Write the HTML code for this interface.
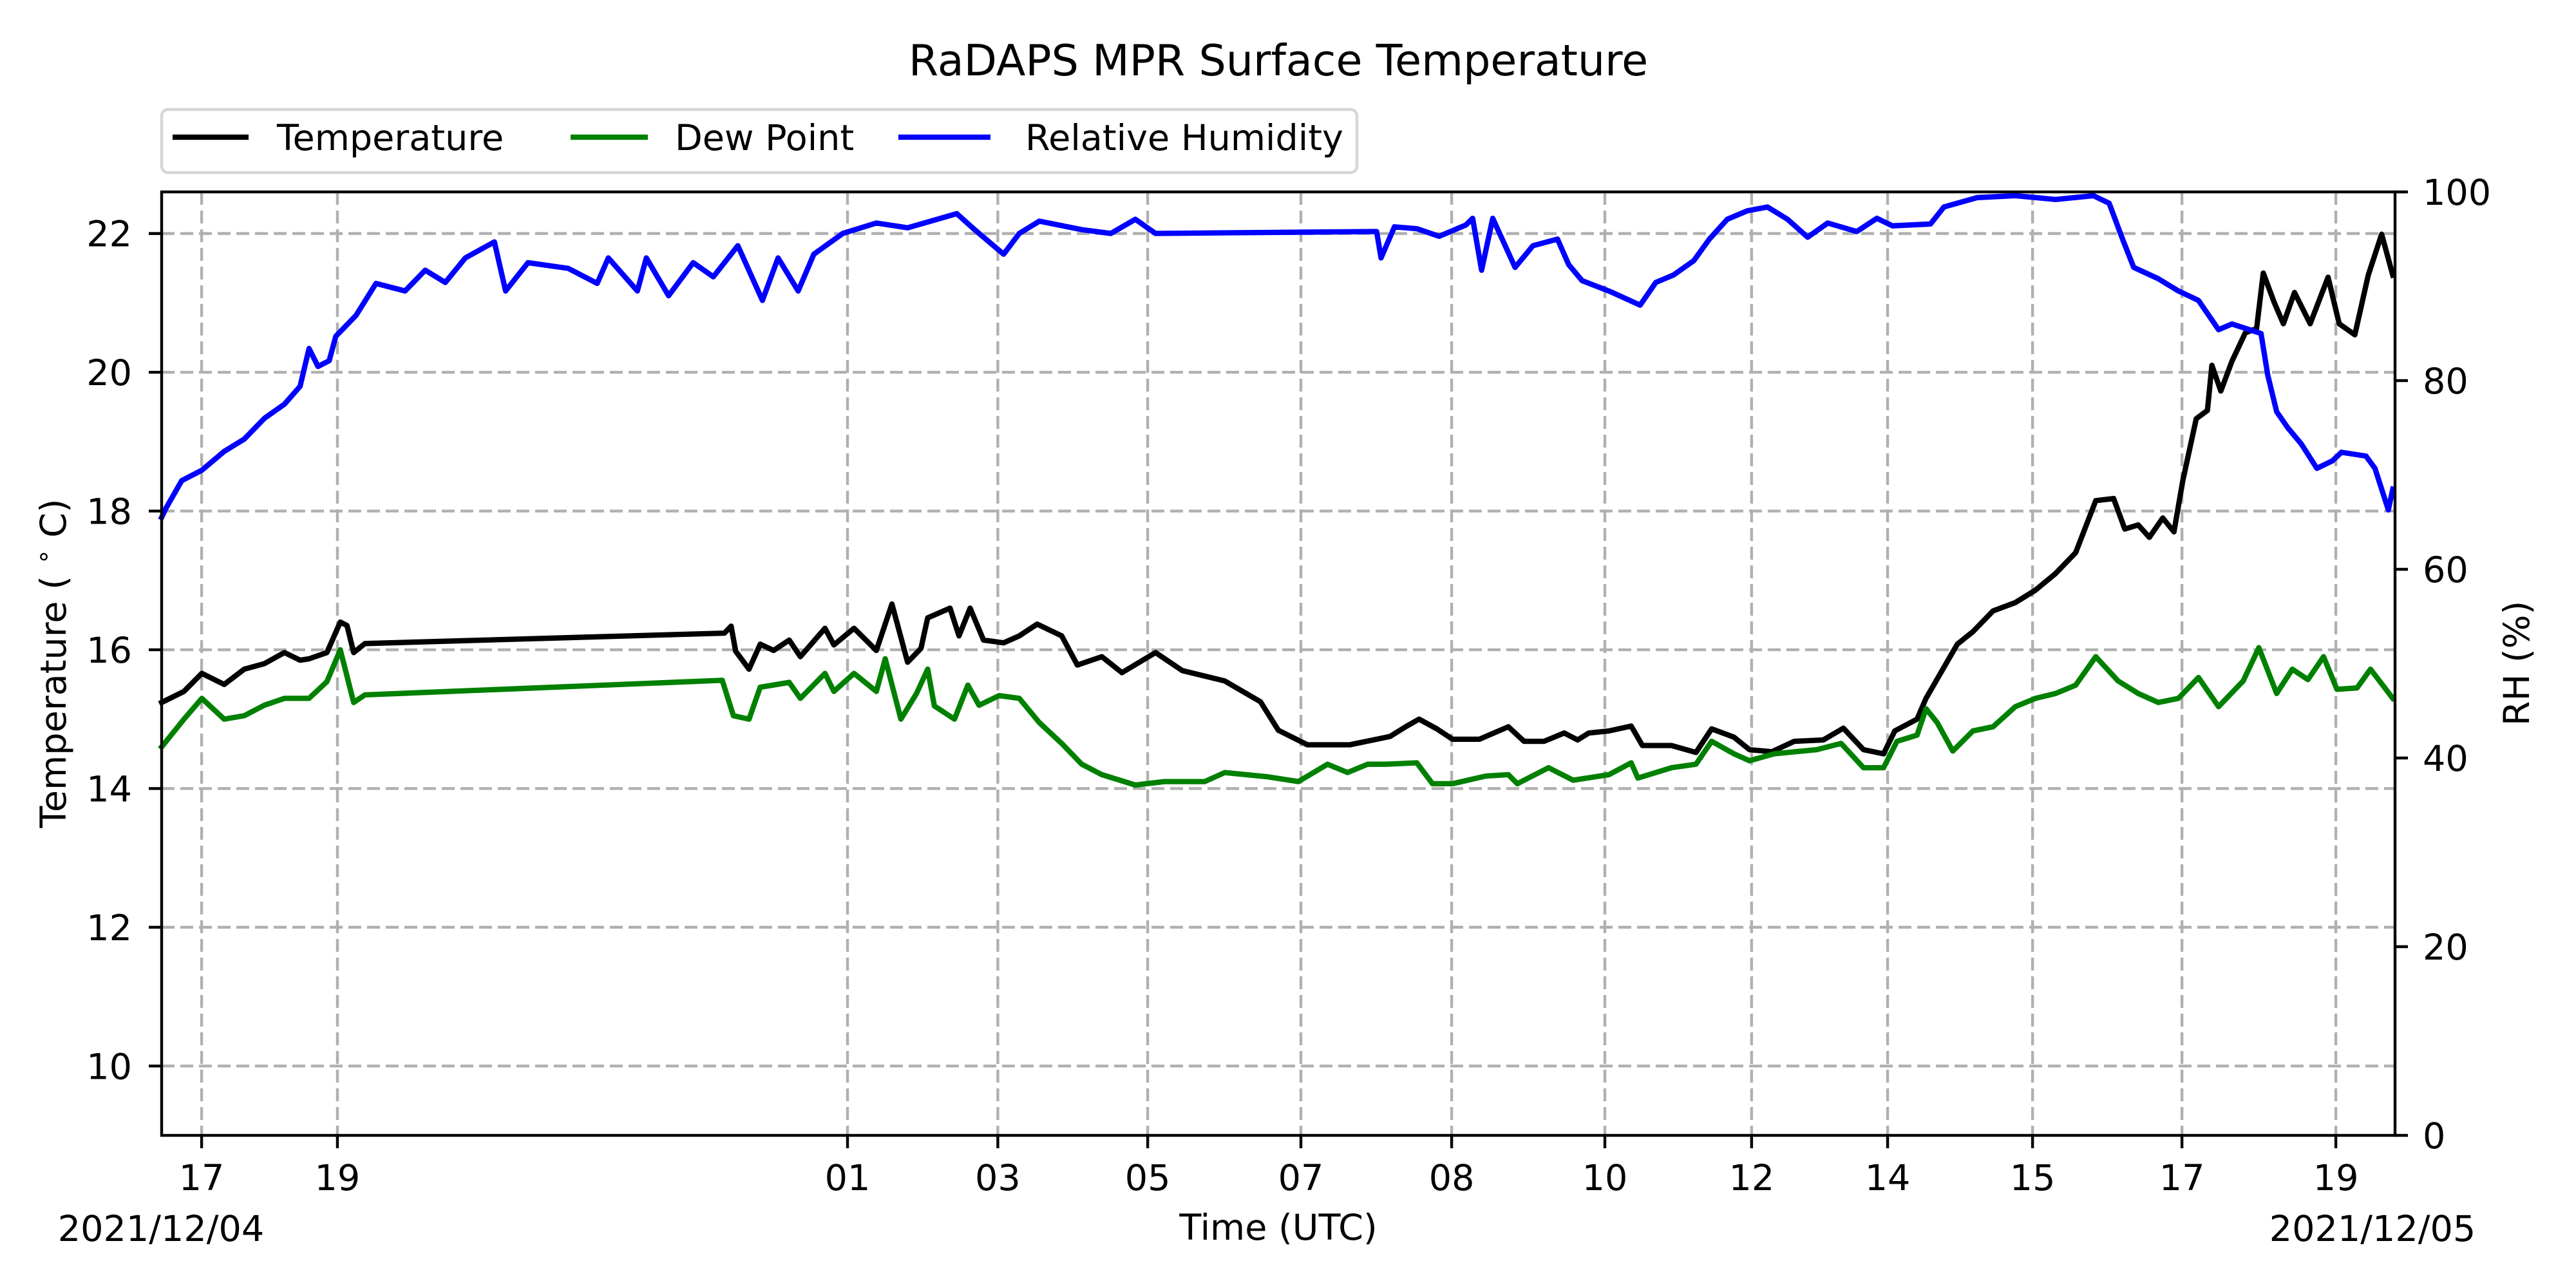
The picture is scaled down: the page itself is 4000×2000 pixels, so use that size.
<!DOCTYPE html>
<html><head><meta charset="utf-8"><style>
html,body{margin:0;padding:0;background:#fff}
svg{display:block;font-family:"DejaVu Sans","Liberation Sans",sans-serif}
</style></head><body>
<svg id="chart" width="4000" height="2000" viewBox="0 0 4000 2000" xmlns="http://www.w3.org/2000/svg">
<rect width="4000" height="2000" fill="#fff"/>
<text x="1985" y="117" font-size="66.7" text-anchor="middle">RaDAPS MPR Surface Temperature</text>
<g id="grid"></g>
<g id="series"></g>
<rect x="251" y="298" width="3468" height="1465" fill="none" stroke="#000" stroke-width="4.4"/>
<g id="axes"></g>
<text x="1985" y="1925" font-size="55.6" text-anchor="middle">Time (UTC)</text>
<text x="250" y="1927" font-size="55.6" text-anchor="middle">2021/12/04</text>
<text x="3684" y="1927" font-size="55.6" text-anchor="middle">2021/12/05</text>
<text transform="translate(102,1030) rotate(-90)" font-size="55.6" text-anchor="middle">Temperature ( <tspan font-size="38" dy="-22">∘</tspan><tspan dy="22"> C)</tspan></text>
<text transform="translate(3927,1030) rotate(-90)" font-size="55.6" text-anchor="middle">RH (%)</text>
<g>
<rect x="251" y="170" width="1856" height="98" rx="10" fill="#fff" stroke="#d6d6d6" stroke-width="4.5"/>
<line x1="268" y1="213" x2="386" y2="213" stroke="#000" stroke-width="8.3"/>
<text x="430" y="233" font-size="55.6">Temperature</text>
<line x1="886" y1="213" x2="1006" y2="213" stroke="#008000" stroke-width="8.3"/>
<text x="1048" y="233" font-size="55.6">Dew Point</text>
<line x1="1395" y1="213" x2="1538" y2="213" stroke="#0000ff" stroke-width="8.3"/>
<text x="1592" y="233" font-size="55.6">Relative Humidity</text>
</g>
</svg>
<script>
const xTickPos = [17.9,78.7,307.1,374.4,441.5,510.1,577.6,646.2,711.9,772.8,837.7,904.6,973.5];
const xTickLabels = ["17","19","01","03","05","07","08","10","12","14","15","17","19"];
const yTicks = [10,12,14,16,18,20,22];
const y2Ticks = [0,20,40,60,80,100];
const tempX = [0,10,18,28,37,46,55,62,66,74,80,83,86,91,252,255,257,263,268,274,281,286,297,301,310,320,327,334,340,343,353,357,362,368,377,384,392,403,410,421,430,445,457,476,492,500,513,532,550,557,563,571,578,590,603,610,619,628,634,639,648,658,663,676,687,694,704,711,721,731,744,753,762,771,776,786,790,804,811,820,830,839,848,857,866,874,879,885,890,896,901,905,911,916,918,922,927,933,938,941,946,950,955,962,970,975,982,988,994,999];
const tempY = [15.24,15.4,15.66,15.5,15.72,15.8,15.96,15.85,15.87,15.96,16.4,16.35,15.96,16.09,16.24,16.34,15.98,15.72,16.08,15.99,16.14,15.9,16.31,16.07,16.31,15.99,16.66,15.82,16.02,16.46,16.6,16.2,16.6,16.14,16.1,16.2,16.37,16.2,15.78,15.9,15.67,15.96,15.7,15.55,15.25,14.84,14.63,14.63,14.75,14.89,15.0,14.86,14.71,14.71,14.89,14.68,14.68,14.8,14.7,14.8,14.83,14.9,14.62,14.62,14.52,14.86,14.74,14.56,14.53,14.68,14.7,14.87,14.56,14.5,14.83,15.0,15.3,16.08,16.26,16.56,16.68,16.86,17.1,17.4,18.15,18.18,17.74,17.8,17.62,17.9,17.7,18.44,19.33,19.45,20.1,19.73,20.16,20.57,20.63,21.43,21.0,20.7,21.15,20.7,21.37,20.7,20.54,21.4,21.99,21.4];
const dewX = [0,10,18,28,37,46,55,66,74,80,86,91,251,256,263,268,281,286,297,301,310,320,324,331,338,343,346,355,361,366,375,384,393,403,412,421,436,449,467,476,495,509,522,531,540,548,562,569,578,593,603,607,621,632,648,658,661,676,687,694,704,711,722,741,752,762,771,777,786,790,795,802,811,820,830,839,848,857,866,876,885,894,903,912,921,932,939,947,954,961,968,974,983,989,999];
const dewY = [14.6,15.0,15.3,15.0,15.05,15.2,15.3,15.3,15.54,16.0,15.24,15.35,15.56,15.05,15.0,15.46,15.53,15.3,15.66,15.4,15.66,15.4,15.87,15.0,15.37,15.72,15.19,15.0,15.49,15.2,15.34,15.3,14.95,14.65,14.35,14.2,14.05,14.1,14.1,14.23,14.17,14.1,14.35,14.23,14.35,14.35,14.37,14.07,14.07,14.18,14.2,14.07,14.3,14.12,14.2,14.37,14.15,14.3,14.35,14.68,14.5,14.4,14.5,14.56,14.65,14.3,14.3,14.68,14.77,15.15,14.95,14.54,14.83,14.89,15.18,15.3,15.37,15.49,15.9,15.55,15.37,15.24,15.3,15.6,15.18,15.55,16.03,15.37,15.72,15.57,15.9,15.43,15.45,15.72,15.3];
const rhX = [0,2,9,18,28,37,46,55,62,66,70,75,78,87,96,109,118,127,136,149,154,164,182,195,200,213,217,227,238,247,258,269,276,285,292,305,320,334,356,364,377,384,393,412,425,436,445,544,546,552,562,572,584,587,591,596,606,614,625,630,636,649,662,669,677,686,693,701,710,719,728,737,746,759,768,775,792,798,813,830,848,865,872,878,883,894,903,912,921,927,940,943,947,952,958,965,972,976,987,991,997,999];
const rhY = [65.5,66.5,69.4,70.5,72.5,73.8,76.0,77.5,79.4,83.4,81.5,82.1,84.7,86.9,90.3,89.5,91.7,90.4,93,94.7,89.5,92.5,91.9,90.3,93.0,89.5,93,89,92.5,91,94.3,88.5,93,89.5,93.4,95.6,96.7,96.2,97.7,96.0,93.4,95.6,96.9,96,95.6,97.1,95.6,95.8,93.0,96.3,96.1,95.3,96.5,97.2,91.7,97.2,92,94.3,95,92.3,90.6,89.4,88.0,90.4,91.2,92.7,95,97.1,98.0,98.4,97.1,95.2,96.7,95.8,97.2,96.4,96.6,98.4,99.4,99.6,99.2,99.6,98.8,95,92,90.8,89.5,88.5,85.4,86.0,85,80.6,76.7,75,73.3,70.7,71.5,72.4,72,70.7,66.3,68.5];

const L=251,R=3719,T=298,B=1763;
const xS = i => L + i*(R-L)/1000;
const yT = v => B - (v-9.0)*(B-T)/(22.6-9.0);
const yR = v => B - v*(B-T)/100;
const NS="http://www.w3.org/2000/svg";
function mk(tag,attrs,parent){const e=document.createElementNS(NS,tag);for(const k in attrs)e.setAttribute(k,attrs[k]);parent.appendChild(e);return e;}
const grid=document.getElementById('grid'), axes=document.getElementById('axes'), series=document.getElementById('series');
xTickPos.forEach((p,k)=>{
  const x=xS(p);
  const g=mk('line',{x1:x,y1:T,x2:x,y2:B,stroke:'#b0b0b0','stroke-width':4.4,'stroke-dasharray':'20 9'},grid);
  
  
  const t=mk('line',{x1:x,y1:B,x2:x,y2:B+20,stroke:'#000','stroke-width':4.4},axes);
  
  
  const lb=mk('text',{x:x,y:1848,'font-size':55.6,'text-anchor':'middle'},axes);
  lb.textContent=xTickLabels[k];
  
  
});
yTicks.forEach(v=>{
  const y=yT(v);
  const g=mk('line',{x1:L,y1:y,x2:R,y2:y,stroke:'#b0b0b0','stroke-width':4.4,'stroke-dasharray':'20 9'},grid);
  
  
  const t=mk('line',{x1:L-20,y1:y,x2:L,y2:y,stroke:'#000','stroke-width':4.4},axes);
  
  
  const lb=mk('text',{x:205,y:y+20,'font-size':55.6,'text-anchor':'end'},axes);
  lb.textContent=String(v);
  
  
});
y2Ticks.forEach(v=>{
  const y=yR(v);
  const t=mk('line',{x1:R,y1:y,x2:R+20,y2:y,stroke:'#000','stroke-width':4.4},axes);
  
  
  const lb=mk('text',{x:3762,y:y+20,'font-size':55.6,'text-anchor':'start'},axes);
  lb.textContent=String(v);
  
  
});
function path(xs,ys,ysc,color,name){
  const d=xs.map((x,k)=>(k?'L':'M')+xS(x).toFixed(1)+' '+ysc(ys[k]).toFixed(1)).join(' ');
  const p=mk('path',{d:d,fill:'none',stroke:color,'stroke-width':8.3,'stroke-linejoin':'round','stroke-linecap':'square'},series);
  
  
}
path(tempX,tempY,yT,'#000000','temperature-line');
path(dewX,dewY,yT,'#008000','dew-point-line');
path(rhX,rhY,yR,'#0000ff','relative-humidity-line');
</script>
</body></html>
